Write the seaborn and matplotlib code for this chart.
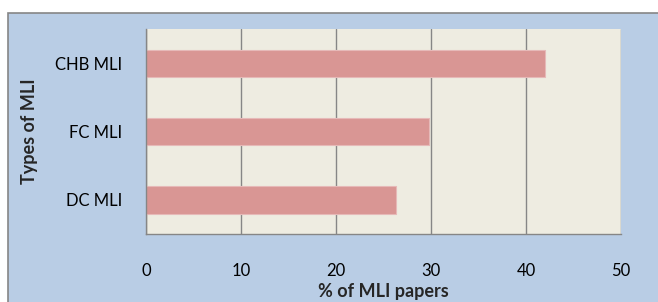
import pandas as pd
import seaborn as sns
import matplotlib.pyplot as plt
from matplotlib.patches import Rectangle

# --------------------------------------------------
# Data
# --------------------------------------------------

mli_types = ["CHB MLI", "FC MLI", "DC MLI"]
pct_papers = [42.0, 29.8, 26.3]
x_ticks = [0, 10, 20, 30, 40, 50]

df = pd.DataFrame({"type": mli_types, "pct": pct_papers})

# --------------------------------------------------
# Style
# --------------------------------------------------

sns.set_theme(style="white")
plt.rcParams["font.family"] = ["Lato", "DejaVu Sans"]

BG_BLUE = "#B9CDE5"
PLOT_BG = "#EEECE1"
BAR_COLOR = "#D99694"
GRID_GRAY = "#868686"

fig = plt.figure(figsize=(6.58, 3.02), dpi=100, facecolor="white")

# outer chart frame (behind the axes)
fig.patches.append(Rectangle(
    (8 / 658, -0.05), 1.0, (302 - 13) / 302 + 0.05,
    transform=fig.transFigure, facecolor=BG_BLUE,
    edgecolor=GRID_GRAY, linewidth=1.2, zorder=-10
))

ax = fig.add_axes([146 / 658, (302 - 234) / 302, 475 / 658, 205 / 302])
ax.set_zorder(1)
ax.set_facecolor(PLOT_BG)

sns.barplot(
    data=df, x="pct", y="type", order=mli_types,
    color=BAR_COLOR, width=0.4, orient="h",
    edgecolor="#E6B9B8", linewidth=0.8, saturation=1, ax=ax
)

ax.set_xlim(0, 50)
ax.set_ylim(2.5, -0.5)
ax.set_xticks(x_ticks)
ax.xaxis.grid(True, color=GRID_GRAY, linewidth=1.0)
ax.set_axisbelow(True)

for side in ["top", "right"]:
    ax.spines[side].set_visible(False)
for side in ["left", "bottom"]:
    ax.spines[side].set_color(GRID_GRAY)
    ax.spines[side].set_linewidth(1.0)

ax.tick_params(axis="x", direction="out", length=4, width=1.0,
               color=GRID_GRAY, pad=17, labelsize=12, labelcolor="black")
ax.tick_params(axis="y", length=0, pad=17, labelsize=12, labelcolor="black")

ax.set_xlabel("% of MLI papers", fontsize=13, fontweight="bold", labelpad=3)
ax.set_ylabel("Types of MLI", fontsize=13, fontweight="bold")
ax.yaxis.set_label_coords(-0.228, 0.5)

plt.savefig("out.png", dpi=100, facecolor="white")
plt.close()
